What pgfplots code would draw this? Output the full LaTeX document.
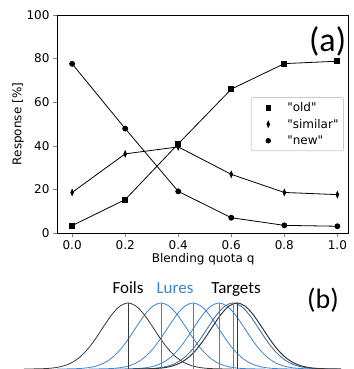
\documentclass[border=0pt]{standalone}
\usepackage{pgfplots}
\pgfplotsset{compat=1.18}
\usepackage{pgfplotstable}
\usepackage{fontspec}
\setmainfont{DejaVu Sans}
\newfontfamily\calib{Carlito}
\newcommand\sq{\XeTeXglyph\XeTeXcharglyph34 }
\definecolor{lureblue}{RGB}{62,132,205}
\definecolor{darkg}{RGB}{55,55,55}

\pgfplotstableread{
q old similar new
0.0 3.4 18.6 77.6
0.2 15.3 36.3 47.9
0.4 40.9 39.5 19.1
0.6 66.0 26.9 7.0
0.8 77.7 18.6 3.5
1.0 78.8 17.6 3.1
}\resp

\pgfplotstableread{
d v
-104 0.0003
-96 0.0011
-88 0.0033
-80 0.0088
-72 0.0216
-64 0.0483
-56 0.0983
-48 0.1819
-40 0.3062
-32 0.4689
-24 0.6531
-16 0.8275
-8 0.9538
0 1
8 0.9538
16 0.8275
24 0.6531
32 0.4689
40 0.3062
48 0.1819
56 0.0983
64 0.0483
72 0.0216
80 0.0088
88 0.0033
96 0.0011
104 0.0003
}\gauss

\begin{document}
\begin{tikzpicture}
\useasboundingbox (0pt,0pt) rectangle (353pt,369pt);
\begin{axis}[at={(57pt,136pt)}, anchor=south west, scale only axis,
  width=291pt, height=218pt,
  xmin=-0.057, xmax=1.04, ymin=0, ymax=100,
  xtick={0,0.2,0.4,0.6,0.8,1}, ytick={0,20,40,60,80,100},
  xticklabel style={/pgf/number format/.cd, fixed, fixed zerofill, precision=1},
  /pgf/number format/assume math mode=true,
  tick label style={font=\fontsize{12}{14}\selectfont},
  label style={font=\fontsize{12}{14}\selectfont},
  tick align=outside, major tick length=4pt,
  xtick pos=bottom, ytick pos=left,
  xlabel={Blending quota q}, ylabel={Response [\%]},
  xlabel style={at={(axis description cs:0.502,-0.12)}, anchor=center},
  ylabel style={at={(axis description cs:-0.134,0.5)}, anchor=center},
  axis line style={line width=0.7pt},
  legend style={at={(rel axis cs:0.986,0.624)}, anchor=north east,
    draw=black!20, line width=0.8pt, rounded corners=2pt, font=\fontsize{12}{14}\selectfont,
    row sep=2pt, inner sep=3pt},
  legend cell align=left,
  legend image code/.code={\path[draw=none,fill=none] (0pt,0pt) -- (31pt,0pt); \draw[#1] plot coordinates {(14pt,0pt)};},
]
\addplot[black, line width=0.8pt, mark=square*, mark size=2.5pt, forget plot] table[x=q, y=old]{\resp};
\addplot[black, line width=0.8pt, mark=diamond*, mark size=3pt, mark options={xscale=0.6}, forget plot] table[x=q, y=similar]{\resp};
\addplot[black, line width=0.8pt, mark=*, mark size=2.5pt, forget plot] table[x=q, y=new]{\resp};
\addlegendimage{only marks, black, mark=square*, mark size=2.3pt}
\addlegendentry{\sq old\sq}
\addlegendimage{only marks, black, mark=diamond*, mark size=3pt, mark options={xscale=0.6}}
\addlegendentry{\sq similar\sq}
\addlegendimage{only marks, black, mark=*, mark size=2.3pt}
\addlegendentry{\sq new\sq}
\node[font=\calib\fontsize{34}{40}\selectfont, anchor=center] at (rel axis cs:0.93,0.88) {(a)};
\end{axis}

\begin{axis}[at={(0pt,0pt)}, anchor=south west, scale only axis,
  width=353pt, height=66pt, xmin=0, xmax=353, ymin=0, ymax=1,
  axis lines=none, clip=false]
\addplot[lureblue, line width=0.8pt, smooth] table[x expr=\thisrow{d}+161, y=v]{\gauss};
\addplot[lureblue, line width=0.8pt, smooth] table[x expr=\thisrow{d}+193, y=v]{\gauss};
\addplot[lureblue, line width=0.8pt, smooth] table[x expr=\thisrow{d}+219, y=v]{\gauss};
\addplot[lureblue!80!black, line width=0.8pt, smooth] table[x expr=\thisrow{d}+233, y=v]{\gauss};
\addplot[darkg, line width=0.8pt, smooth] table[x expr=\thisrow{d}+128, y=v]{\gauss};
\addplot[darkg, line width=1pt, smooth] table[x expr=\thisrow{d}+237, y=v]{\gauss};
\addplot[lureblue, line width=0.8pt] coordinates {(161,0) (161,1)};
\addplot[lureblue, line width=0.8pt] coordinates {(193,0) (193,1)};
\addplot[lureblue, line width=0.8pt] coordinates {(219,0) (219,1)};
\addplot[lureblue, line width=0.8pt] coordinates {(233,0) (233,1)};
\addplot[darkg, line width=0.8pt] coordinates {(128,0) (128,1)};
\addplot[darkg, line width=0.8pt] coordinates {(237,0) (237,1)};
\end{axis}
\node[font=\calib\fontsize{17}{20}\selectfont, anchor=base, text=black] at (128pt,75pt) {Foils};
\node[font=\calib\fontsize{17}{20}\selectfont, anchor=base, text=lureblue] at (175pt,75pt) {Lures};
\node[font=\calib\fontsize{17}{20}\selectfont, anchor=base, text=black] at (236pt,75pt) {Targets};
\node[font=\calib\fontsize{28}{34}\selectfont, anchor=center] at (323pt,69pt) {(b)};
\end{tikzpicture}
\end{document}
